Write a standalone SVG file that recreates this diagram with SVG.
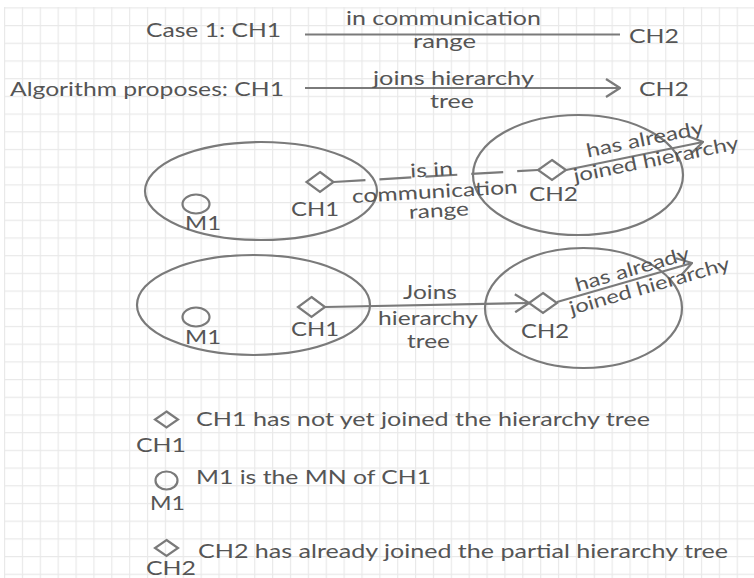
<svg xmlns="http://www.w3.org/2000/svg" width="754" height="578" viewBox="0 0 754 578">
  <defs>
    <pattern id="grid" x="4" y="7.3" width="17.87" height="17.7" patternUnits="userSpaceOnUse">
      <path d="M0.5,0 V17.7 M0,0.5 H17.87" fill="none" stroke="#e9e9e9" stroke-width="1.4"/>
    </pattern>
    <marker id="open" viewBox="0 0 16 20" refX="15" refY="10" markerWidth="16" markerHeight="20" markerUnits="userSpaceOnUse" orient="auto">
      <path d="M1,1 L15,10 L1,19" fill="none" stroke="#7a7a7a" stroke-width="2.2"/>
    </marker>
  </defs>
  <style>
    text { font-family: Lato, "Open Sans", "Liberation Sans", sans-serif; font-size: 19px; fill: #555; }
    .mid { text-anchor: middle; }
    .shape { fill: none; stroke: #7a7a7a; stroke-width: 2.2; }
    .conn { fill: none; stroke: #7a7a7a; stroke-width: 2.2; }
  </style>
  <rect x="0" y="0" width="754" height="578" fill="#fff"/>
  <rect x="4" y="7" width="750" height="571" fill="url(#grid)"/>

  <!-- header rows -->
  <g id="case1">
    <text x="146" y="37" textLength="135" lengthAdjust="spacingAndGlyphs">Case 1: CH1</text>
    <text x="629" y="43" textLength="50" lengthAdjust="spacingAndGlyphs">CH2</text>
  </g>
  <g id="proposal">
    <text x="10" y="96" textLength="274" lengthAdjust="spacingAndGlyphs">Algorithm proposes: CH1</text>
    <text x="639" y="96" textLength="50" lengthAdjust="spacingAndGlyphs">CH2</text>
  </g>

  <!-- scene 1 -->
  <g id="cluster1a">
    <ellipse class="shape" cx="261" cy="191" rx="116" ry="49"/>
  </g>
  <g id="m1a">
    <ellipse class="shape" cx="196" cy="204" rx="13.5" ry="9.5"/>
    <text x="185" y="230" textLength="36" lengthAdjust="spacingAndGlyphs">M1</text>
  </g>
  <g id="ch1a">
    <polygon class="shape" points="320,172 333.5,182 320,192 306.5,182"/>
    <text x="291" y="216" textLength="48" lengthAdjust="spacingAndGlyphs">CH1</text>
  </g>
  <g id="cluster2a">
    <ellipse class="shape" cx="578" cy="175" rx="105" ry="60"/>
  </g>
  <g id="ch2a">
    <polygon class="shape" points="552,160 566,170 552,180 538,170"/>
    <text x="529" y="201" textLength="49" lengthAdjust="spacingAndGlyphs">CH2</text>
  </g>

  <!-- scene 2 -->
  <g id="cluster1b">
    <ellipse class="shape" cx="253.5" cy="305" rx="116.5" ry="50"/>
  </g>
  <g id="m1b">
    <ellipse class="shape" cx="196" cy="317" rx="13.5" ry="9.5"/>
    <text x="185" y="344" textLength="36" lengthAdjust="spacingAndGlyphs">M1</text>
  </g>
  <g id="ch1b">
    <polygon class="shape" points="311.5,297 325,307 311.5,317 298,307"/>
    <text x="291" y="336" textLength="48" lengthAdjust="spacingAndGlyphs">CH1</text>
  </g>
  <g id="cluster2b">
    <ellipse class="shape" cx="583.5" cy="308" rx="98.5" ry="60"/>
  </g>
  <g id="ch2b">
    <polygon class="shape" points="543,293 557,303 543,313 529,303"/>
    <text x="521" y="338" textLength="48" lengthAdjust="spacingAndGlyphs">CH2</text>
  </g>

  <!-- legend -->
  <g id="legend-ch1">
    <polygon class="shape" points="166.5,411.5 178,419.5 166.5,427.5 155,419.5"/>
    <text x="196" y="426" textLength="454" lengthAdjust="spacingAndGlyphs">CH1 has not yet joined the hierarchy tree</text>
    <text x="136" y="452" textLength="50" lengthAdjust="spacingAndGlyphs">CH1</text>
  </g>
  <g id="legend-m1">
    <ellipse class="shape" cx="166.5" cy="480.5" rx="11" ry="9"/>
    <text x="196" y="484" textLength="235" lengthAdjust="spacingAndGlyphs">M1 is the MN of CH1</text>
    <text x="150" y="510" textLength="35" lengthAdjust="spacingAndGlyphs">M1</text>
  </g>
  <g id="legend-ch2">
    <polygon class="shape" points="166.5,540 178,548 166.5,556 155,548"/>
    <text x="198" y="558" textLength="530" lengthAdjust="spacingAndGlyphs">CH2 has already joined the partial hierarchy tree</text>
    <text x="146" y="575" textLength="50" lengthAdjust="spacingAndGlyphs">CH2</text>
  </g>

  <!-- connectors -->
  <g id="connectors">
    <line class="conn" x1="305" y1="34.5" x2="620" y2="34.5"/>
    <text class="mid" x="443.5" y="25" textLength="195" lengthAdjust="spacingAndGlyphs">in communication</text>
    <text class="mid" x="444.5" y="48" textLength="63" lengthAdjust="spacingAndGlyphs">range</text>

    <line class="conn" x1="305" y1="88" x2="620" y2="88" marker-end="url(#open)"/>
    <text class="mid" x="453.5" y="85" textLength="161" lengthAdjust="spacingAndGlyphs">joins hierarchy</text>
    <text class="mid" x="452" y="108" textLength="44" lengthAdjust="spacingAndGlyphs">tree</text>

    <line class="conn" x1="333.5" y1="182" x2="538" y2="170" stroke-dasharray="32 14"/>
    <g transform="rotate(-3.3 437 195)">
      <text class="mid" x="433" y="176" textLength="43" lengthAdjust="spacingAndGlyphs">is in</text>
      <text class="mid" x="435" y="198" textLength="166" lengthAdjust="spacingAndGlyphs">communication</text>
      <text class="mid" x="438" y="217" textLength="60" lengthAdjust="spacingAndGlyphs">range</text>
    </g>

    <line class="conn" x1="566" y1="170" x2="703" y2="142" marker-end="url(#open)"/>
    <g transform="rotate(-11.5 650 155)">
      <text class="mid" x="648" y="145" textLength="119" lengthAdjust="spacingAndGlyphs">has already</text>
      <text class="mid" x="655" y="167" textLength="168" lengthAdjust="spacingAndGlyphs">joined hierarchy</text>
    </g>

    <line class="conn" x1="325" y1="307" x2="529" y2="303" marker-end="url(#open)"/>
    <text class="mid" x="430" y="299" textLength="54" lengthAdjust="spacingAndGlyphs">Joins</text>
    <text class="mid" x="428" y="325" textLength="100" lengthAdjust="spacingAndGlyphs">hierarchy</text>
    <text class="mid" x="428.5" y="348" textLength="43" lengthAdjust="spacingAndGlyphs">tree</text>

    <line class="conn" x1="557" y1="302" x2="692" y2="263" marker-end="url(#open)"/>
    <g transform="rotate(-16 640 282)">
      <text class="mid" x="636" y="274" textLength="118" lengthAdjust="spacingAndGlyphs">has already</text>
      <text class="mid" x="648" y="295" textLength="166" lengthAdjust="spacingAndGlyphs">joined hierarchy</text>
    </g>
  </g>
</svg>
